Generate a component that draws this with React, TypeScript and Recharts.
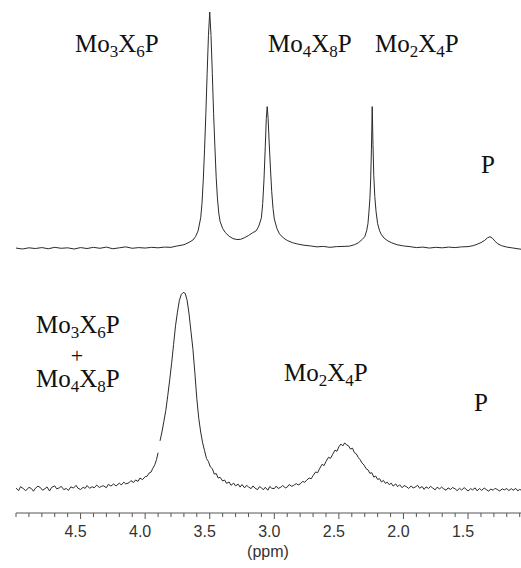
import React from 'react';
import { LineChart, Line, XAxis, YAxis } from 'recharts';

// ppm, intensity (upper spectrum, tallest peak = 100)
const topTrace: [number, number][] = [
  [5.0, 0.2], [4.95, -0.2], [4.9, 0.3], [4.85, 0.0], [4.8, 0.4], [4.75, -0.1], [4.7, 0.5], [4.65, 0.1],
  [4.6, 0.3], [4.55, -0.2], [4.5, 0.4], [4.45, 0.0], [4.4, 0.5], [4.35, 0.1], [4.3, 0.6], [4.25, -0.1],
  [4.2, 0.3], [4.15, 0.7], [4.1, 0.1], [4.05, 0.4], [4.0, 0.2], [3.95, 0.5], [3.9, 0.3], [3.85, 0.6],
  [3.8, 0.5], [3.76, 1.0], [3.73, 1.3], [3.7, 1.6], [3.66, 2.6], [3.63, 3.6], [3.61, 5.0], [3.59, 7.5],
  [3.57, 13], [3.56, 19], [3.55, 29], [3.54, 42], [3.53, 57], [3.52, 74], [3.51, 90], [3.5, 100],
  [3.49, 90], [3.48, 74], [3.47, 57], [3.46, 43], [3.45, 30], [3.44, 21], [3.43, 15], [3.42, 11.5],
  [3.4, 8.5], [3.38, 6.8], [3.35, 5.2], [3.32, 4.2], [3.29, 3.8], [3.26, 3.9], [3.23, 4.6], [3.2, 5.5],
  [3.17, 6.6], [3.14, 7.5], [3.12, 9.5], [3.1, 13], [3.09, 19], [3.08, 29], [3.07, 43], [3.062, 55],
  [3.055, 60], [3.048, 55], [3.04, 45], [3.03, 34], [3.02, 24], [3.01, 17], [3.0, 12.5], [2.98, 8.5],
  [2.96, 6.2], [2.93, 4.5], [2.9, 3.4], [2.86, 2.5], [2.82, 1.9], [2.77, 1.4], [2.72, 1.1], [2.67, 0.7],
  [2.62, 0.9], [2.57, 0.5], [2.52, 0.8], [2.46, 0.9], [2.42, 1.0], [2.38, 1.6], [2.35, 2.4], [2.32, 3.8],
  [2.3, 5.0], [2.285, 7.5], [2.275, 10.5], [2.268, 15], [2.26, 21], [2.254, 29], [2.248, 42], [2.242, 60],
  [2.236, 44], [2.23, 31], [2.222, 22], [2.212, 15.5], [2.2, 10.5], [2.185, 7.5], [2.17, 5.8], [2.15, 4.4],
  [2.12, 3.2], [2.09, 2.4], [2.05, 1.6], [2.0, 1.1], [1.95, 0.8], [1.9, 0.4], [1.85, 0.6], [1.8, 0.2],
  [1.75, 0.5], [1.7, 0.3], [1.65, 0.6], [1.6, 0.4], [1.55, 0.7], [1.5, 0.8], [1.46, 1.2], [1.43, 1.8],
  [1.4, 2.5], [1.37, 3.5], [1.35, 4.5], [1.33, 5.0], [1.31, 4.3], [1.29, 3.0], [1.27, 2.0], [1.24, 1.2],
  [1.2, 0.6], [1.15, 0.2], [1.09, -0.3],
];

// ppm, intensity (lower spectrum, broad peak = 100); null = gap in the trace
const bottomTrace: [number, number | null][] = [
  [5.0, 0.5], [4.98, -0.8], [4.965, 1.2], [4.94, 0.1], [4.925, -0.9], [4.9, 0.9], [4.88, 0.2], [4.865, -1.1],
  [4.85, 0.4], [4.83, 1.5], [4.81, 0.7], [4.795, -0.6], [4.775, 0.2], [4.76, 1.1], [4.74, -1.0], [4.725, 0.8],
  [4.7, 1.6], [4.685, 0.1], [4.665, 0.6], [4.65, 1.4], [4.63, -0.3], [4.61, 0.3], [4.595, -0.7], [4.575, 1.1],
  [4.555, 0.5], [4.535, 1.9], [4.52, 0.4], [4.5, -0.2], [4.48, 0.9], [4.465, 0.3], [4.45, 1.8], [4.43, 0.4],
  [4.41, 1.2], [4.395, 0.6], [4.375, 2.0], [4.355, 0.8], [4.34, 1.3], [4.325, 1.7], [4.3, 0.7], [4.285, 2.4],
  [4.265, 1.5], [4.245, 2.6], [4.225, 1.6], [4.2, 3.0], [4.185, 2.1], [4.165, 3.5], [4.15, 2.6], [4.125, 3.2],
  [4.11, 4.3], [4.09, 3.3], [4.075, 4.6], [4.055, 3.9], [4.04, 5.6], [4.02, 4.8], [4.0, 6.3], [3.985, 6.5],
  [3.97, 8.1], [3.955, 8.6], [3.94, 10.6], [3.925, 12.4], [3.912, 15.0], [3.9, 18.5], [3.895, null],
  [3.885, 24.5], [3.87, 29], [3.855, 34.5], [3.84, 40], [3.825, 47.5], [3.81, 55.5], [3.795, 64], [3.78, 73.5],
  [3.765, 83], [3.75, 90], [3.735, 96], [3.72, 99], [3.705, 100], [3.69, 99.5], [3.675, 96], [3.66, 89],
  [3.645, 80], [3.63, 71], [3.615, 59], [3.6, 46], [3.585, 36], [3.57, 29], [3.555, 23.5], [3.54, 19.5],
  [3.525, 15.5], [3.51, 14.0], [3.495, 11.2], [3.48, 10.4], [3.465, 7.6], [3.45, 7.9], [3.435, 5.6], [3.42, 6.0],
  [3.4, 4.1], [3.385, 4.6], [3.37, 2.9], [3.35, 3.6], [3.335, 1.9], [3.315, 3.0], [3.3, 1.6], [3.28, 2.5],
  [3.265, 1.0], [3.25, 2.3], [3.23, 0.6], [3.215, 1.9], [3.2, 1.1], [3.18, 0.2], [3.165, 1.6], [3.15, 0.5],
  [3.13, -0.3], [3.115, 1.2], [3.1, 0.7], [3.085, -0.4], [3.07, 0.9], [3.05, -0.6], [3.035, 1.3], [3.02, 0.4],
  [3.0, 0.2], [2.985, 1.5], [2.97, 0.3], [2.95, 0.9], [2.935, 1.8], [2.915, 0.6], [2.9, 1.0], [2.885, 2.3],
  [2.865, 1.4], [2.85, 1.9], [2.83, 2.8], [2.815, 2.1], [2.8, 2.6], [2.78, 3.9], [2.765, 3.4], [2.75, 4.5],
  [2.73, 5.6], [2.715, 5.2], [2.7, 6.8], [2.68, 8.7], [2.665, 8.3], [2.65, 10.3], [2.63, 12.6], [2.615, 11.9],
  [2.6, 14.0], [2.58, 16.2], [2.565, 15.6], [2.55, 17.4], [2.53, 19.8], [2.515, 19.2], [2.5, 21.5], [2.485, 22.9],
  [2.47, 21.9], [2.455, 23.5], [2.44, 22.4], [2.425, 22.0], [2.41, 20.3], [2.395, 20.8], [2.38, 18.5], [2.365, 17.9],
  [2.35, 16.1], [2.335, 14.9], [2.32, 13.2], [2.305, 12.2], [2.29, 10.4], [2.275, 9.8], [2.26, 8.0], [2.245, 8.3],
  [2.23, 6.1], [2.215, 6.6], [2.2, 4.9], [2.185, 5.3], [2.17, 3.6], [2.155, 4.4], [2.14, 2.9], [2.125, 3.5],
  [2.11, 2.2], [2.095, 3.0], [2.08, 1.5], [2.06, 2.6], [2.045, 1.2], [2.03, 2.2], [2.01, 0.7], [1.995, 1.8],
  [1.975, 1.1], [1.96, 0.3], [1.94, 1.6], [1.925, 0.5], [1.905, 1.2], [1.89, 1.9], [1.875, 0.4], [1.855, 1.3],
  [1.84, -0.2], [1.825, 1.1], [1.805, 0.3], [1.79, 1.4], [1.775, 0.6], [1.755, -0.4], [1.74, 0.9], [1.72, 0.1],
  [1.705, 1.0], [1.69, 0.2], [1.67, -0.6], [1.655, 0.6], [1.635, -0.2], [1.62, 0.8], [1.6, 0.1], [1.585, -0.8],
  [1.565, 0.4], [1.55, -0.5], [1.53, 0.7], [1.515, -0.1], [1.5, -1.0], [1.48, 0.2], [1.465, -0.4], [1.445, 0.6],
  [1.43, -0.9], [1.41, 0.3], [1.395, -0.7], [1.375, 0.5], [1.36, -0.2], [1.34, -1.1], [1.325, 0.0], [1.305, -0.6],
  [1.29, 0.4], [1.27, -0.4], [1.255, -1.0], [1.235, 0.1], [1.22, -0.5], [1.2, 0.3], [1.185, -0.8], [1.165, 0.2],
  [1.15, -0.6], [1.13, 0.3], [1.115, -0.9], [1.1, -0.2], [1.09, -0.5],
];

const majorTicks = [4.5, 4.0, 3.5, 3.0, 2.5, 2.0, 1.5];
const allTicks = [
  5.0, 4.9, 4.8, 4.7, 4.6, 4.5, 4.4, 4.3, 4.2, 4.1, 4.0, 3.9, 3.8, 3.7, 3.6, 3.5, 3.4, 3.3, 3.2, 3.1,
  3.0, 2.9, 2.8, 2.7, 2.6, 2.5, 2.4, 2.3, 2.2, 2.1, 2.0, 1.9, 1.8, 1.7, 1.6, 1.5, 1.4, 1.3, 1.2, 1.1,
];

const topData = topTrace.map(([ppm, v]) => ({ ppm, v }));
const bottomData = bottomTrace.map(([ppm, v]) => ({ ppm, v }));

const INK = '#2a2a2a';
const AXIS = '#555';
const serif = '"Liberation Serif", "Times New Roman", serif';
const sans = '"Liberation Sans", Arial, sans-serif';

const PpmTick = ({ x, y, payload }: { x: number; y: number; payload: { value: number } }) => {
  const major = majorTicks.some((m) => Math.abs(m - payload.value) < 1e-6);
  return (
    <g>
      <line x1={x} y1={y} x2={x} y2={y + (major ? 6 : 4)} stroke={AXIS} strokeWidth={1} />
      {major && (
        <text x={x - 5} y={y + 24} textAnchor="middle" fontSize={16} fill="#333" fontFamily={sans}>
          {payload.value.toFixed(1)}
        </text>
      )}
    </g>
  );
};

// species label with subscripts, e.g. Mo<sub>3</sub>X<sub>6</sub>P
const Species = ({ x, y, a, b }: { x: number; y: number; a: string; b: string }) => (
  <text x={x} y={y} fontFamily={serif} fontSize={25} fill="#111">
    Mo<tspan fontSize={17} dy={5}>{a}</tspan>
    <tspan dy={-5}>X</tspan>
    <tspan fontSize={17} dy={5}>{b}</tspan>
    <tspan dy={-5}>P</tspan>
  </text>
);

export default function App() {
  return (
    <div style={{ position: 'absolute', left: 0, top: 0, width: 521, height: 568, background: '#fff' }}>
      <LineChart width={521} height={568} margin={{ top: 10, right: 0, left: 16, bottom: 15 }}>
        <XAxis
          dataKey="ppm"
          type="number"
          domain={[1.09, 5.0]}
          reversed
          allowDataOverflow
          ticks={allTicks}
          interval={0}
          height={40}
          tickSize={0}
          tickMargin={0}
          tickLine={false}
          axisLine={{ stroke: AXIS }}
          tick={PpmTick as any}
        />
        <YAxis yAxisId="top" hide type="number" domain={[-111.81, 100.84]} allowDataOverflow />
        <YAxis yAxisId="bottom" hide type="number" domain={[-12.18, 243.65]} allowDataOverflow />
        <Line yAxisId="top" data={topData} dataKey="v" type="linear" stroke={INK} strokeWidth={1}
          dot={false} activeDot={false} isAnimationActive={false} />
        <Line yAxisId="bottom" data={bottomData} dataKey="v" type="linear" stroke={INK} strokeWidth={1}
          dot={false} activeDot={false} connectNulls={false} isAnimationActive={false} />
      </LineChart>
      <svg width={521} height={568} style={{ position: 'absolute', left: 0, top: 0, pointerEvents: 'none' }}>
        <Species x={75} y={52} a="3" b="6" />
        <Species x={268} y={52} a="4" b="8" />
        <Species x={375} y={52} a="2" b="4" />
        <text x={481} y={173} fontFamily={serif} fontSize={25} fill="#111">P</text>
        <Species x={36} y={333} a="3" b="6" />
        <text x={77} y={363} textAnchor="middle" fontFamily={serif} fontSize={22} fill="#111">+</text>
        <Species x={36} y={387} a="4" b="8" />
        <Species x={284} y={381} a="2" b="4" />
        <text x={474} y={411} fontFamily={serif} fontSize={25} fill="#111">P</text>
        <text x={268} y={557} textAnchor="middle" fontFamily={sans} fontSize={16} fill="#333">(ppm)</text>
      </svg>
    </div>
  );
}
